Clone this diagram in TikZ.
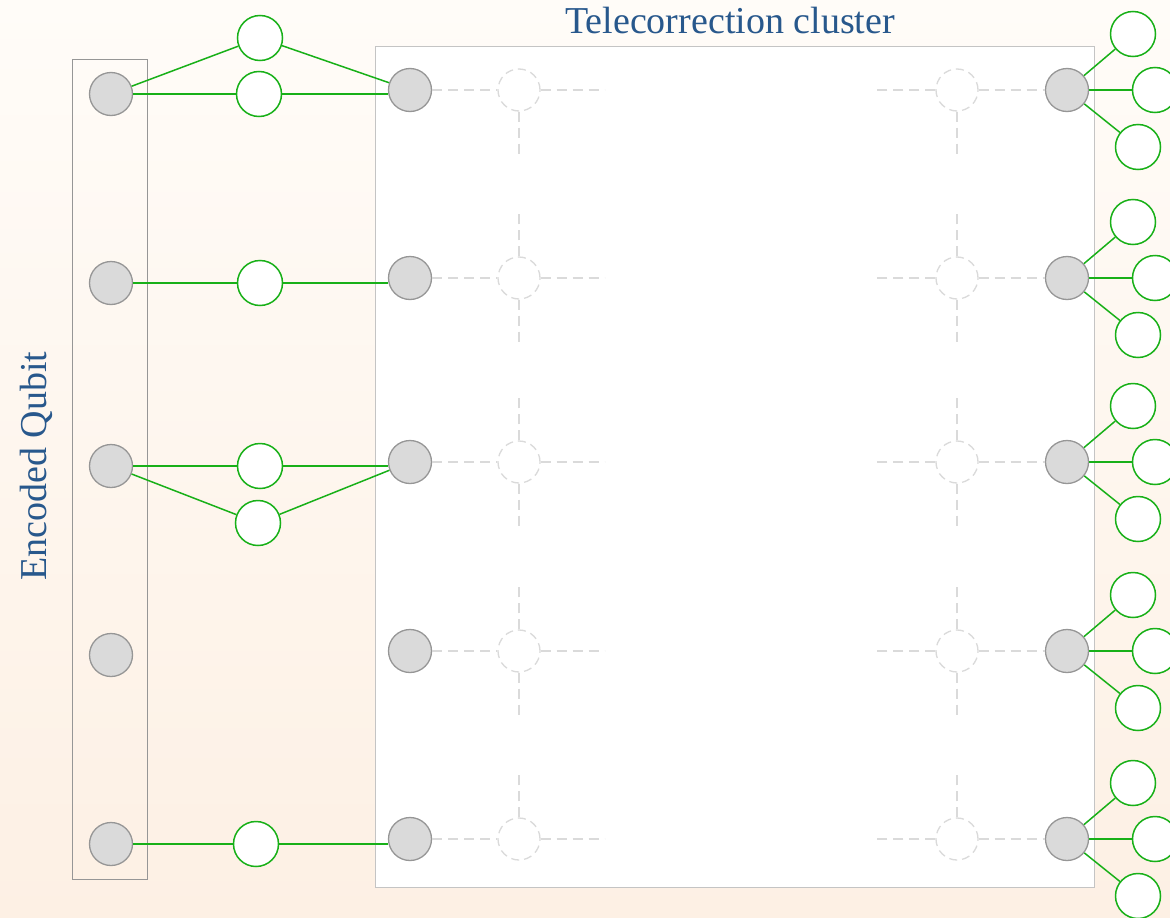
\documentclass[tikz,border=0pt]{standalone}
\usepackage{fontspec}
\setmainfont{Liberation Serif}
\definecolor{qgray}{RGB}{150,150,150}
\definecolor{qfill}{RGB}{218,218,218}
\definecolor{qgreen}{RGB}{24,176,24}
\definecolor{ghostc}{RGB}{218,218,218}
\definecolor{boxc}{RGB}{196,196,196}
\definecolor{titlec}{RGB}{40,88,140}
\definecolor{bgtop}{RGB}{255,252,248}
\definecolor{bgbot}{RGB}{253,240,228}
\tikzset{
  qb/.style={circle, draw=qgray, fill=qfill, line width=1.3pt, minimum size=43pt, inner sep=0pt},
  gn/.style={circle, draw=qgreen, fill=white, line width=1.5pt, minimum size=45pt, inner sep=0pt},
  ghost/.style={circle, draw=ghostc, dash pattern=on 8pt off 5pt, line width=1.3pt, minimum size=42pt, inner sep=0pt},
  link/.style={draw=qgreen, line width=1.5pt},
  dl/.style={draw=ghostc, line width=1.3pt, dash pattern=on 10pt off 6pt},
  ttl/.style={text=titlec, font=\fontsize{38}{42}\selectfont, inner sep=0pt},
}
\begin{document}
\begin{tikzpicture}[x=1pt,y=-1pt]
\useasboundingbox (0,0) rectangle (1170,918);
\shade[top color=bgtop, bottom color=bgbot] (0,0) rectangle (1170,918);
% cluster box
\node[draw=boxc, fill=white, line width=1.3pt, minimum width=719pt, minimum height=841pt, inner sep=0pt, anchor=north west] (cluster) at (375,46) {};
\node[draw=qgray, line width=1.3pt, minimum width=75pt, minimum height=820pt, inner sep=0pt, anchor=north west] (enc) at (72,59) {};
\node[ttl, anchor=base] (t1) at (730,33) {Telecorrection cluster};
\node[ttl, rotate=90, anchor=base] (t2) at (46,466) {Encoded Qubit};
% rows
\foreach \i/\y/\ly in {1/90/94,2/278/283,3/462/466,4/651/655,5/839/844}{
  \node[ghost] (D\i) at (519,\y) {};
  \node[ghost] (E\i) at (957,\y) {};
  \node[qb] (C\i) at (410,\y) {};
  \node[qb] (R\i) at (1067,\y) {};
  \node[qb] (L\i) at (111,\ly) {};
  \draw[dl] (C\i) -- (D\i);
  \draw[dl] (D\i.east) -- ++(64,0);
  \draw[dl] (E\i.west) -- ++(-64,0);
  \draw[dl] (E\i) -- (R\i);
  \node[gn] (Ra\i) at (1133,\y-56) {};
  \node[gn] (Rb\i) at (1155,\y) {};
  \node[gn] (Rc\i) at (1138,\y+57) {};
  \draw[link] (R\i) -- (Ra\i);
  \draw[link] (R\i) -- (Rb\i);
  \draw[link] (R\i) -- (Rc\i);
}
\foreach \i in {1,2,3,4}{
  \draw[dl] (D\i.south) -- ++(0,44);
  \draw[dl] (E\i.south) -- ++(0,44);
}
\foreach \i in {2,3,4,5}{
  \draw[dl] (D\i.north) -- ++(0,-44);
  \draw[dl] (E\i.north) -- ++(0,-44);
}
% left links
\node[gn] (g1a) at (260,38) {};
\node[gn] (g1b) at (259,94) {};
\node[gn] (g2) at (260,283) {};
\node[gn] (g3a) at (260,466) {};
\node[gn] (g3b) at (258,523) {};
\node[gn] (g5) at (256,844) {};
\draw[link] (L1) -- (g1a) -- (C1);
\draw[link] (L1) -- (g1b);
\draw[link] (g1b.east) -- (g1b -| C1.west);
\draw[link] (L2) -- (g2);
\draw[link] (g2.east) -- (g2 -| C2.west);
\draw[link] (L3) -- (g3a);
\draw[link] (g3a.east) -- (g3a -| C3.west);
\draw[link] (L3) -- (g3b) -- (C3);
\draw[link] (L5) -- (g5);
\draw[link] (g5.east) -- (g5 -| C5.west);
\end{tikzpicture}
\end{document}
